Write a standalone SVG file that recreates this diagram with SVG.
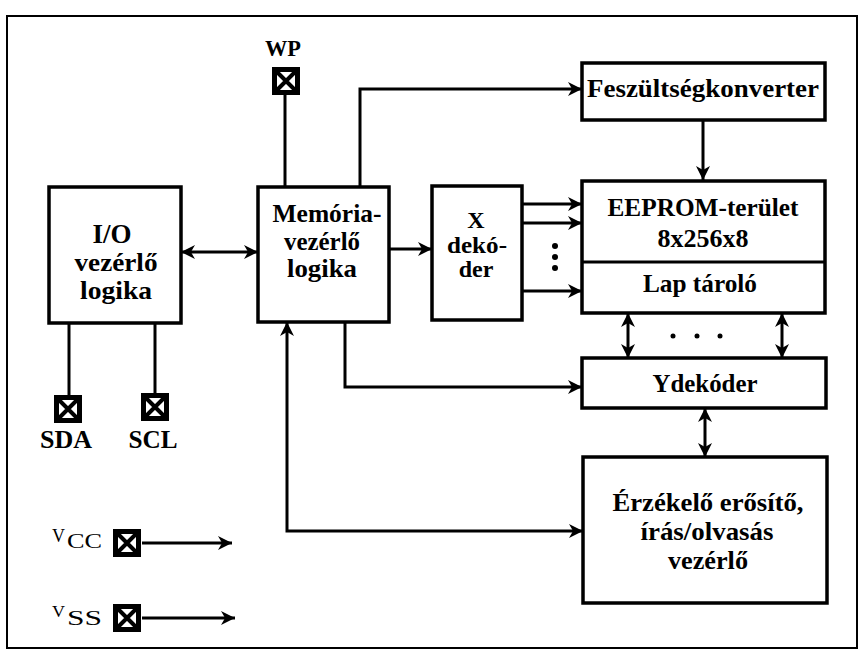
<svg xmlns="http://www.w3.org/2000/svg" width="866" height="654" viewBox="0 0 866 654">
<defs>
<style>
.box{fill:#fff;stroke:#000;stroke-width:3.5}
.ln{fill:none;stroke:#000;stroke-width:3}
.t{font-family:"Liberation Serif","Times New Roman",serif;font-weight:bold;font-size:26px;text-anchor:middle;fill:#000}
.v{font-family:"Liberation Serif","Times New Roman",serif;fill:#000}
</style>
<marker id="ah" markerUnits="userSpaceOnUse" markerWidth="14" markerHeight="14" viewBox="0 0 12 12" refX="12" refY="6" orient="auto-start-reverse">
<path d="M0,0 L12,6 L0,12 L3.5,6 z" fill="#000"/>
</marker>
<g id="pin">
<rect x="0" y="0" width="28" height="28" fill="#000"/>
<rect x="5" y="5" width="18" height="18" fill="#fff"/>
<path d="M5,5 L23,23 M23,5 L5,23" stroke="#000" stroke-width="4"/>
</g>
</defs>
<rect x="0" y="0" width="866" height="654" fill="#fff"/>
<rect x="7" y="16" width="850" height="632" fill="none" stroke="#000" stroke-width="2"/>

<g id="connectors">
<path class="ln" d="M181,252 H258" marker-start="url(#ah)" marker-end="url(#ah)"/>
<path class="ln" d="M389,249 H432" marker-end="url(#ah)"/>
<path class="ln" d="M522,204 H582" marker-end="url(#ah)"/>
<path class="ln" d="M522,223 H582" marker-end="url(#ah)"/>
<path class="ln" d="M522,291 H582" marker-end="url(#ah)"/>
<path class="ln" d="M360,187 V89 H582" marker-end="url(#ah)"/>
<path class="ln" d="M703,120 V180" marker-end="url(#ah)"/>
<path class="ln" d="M285,95 V187"/>
<path class="ln" d="M628,313 V358" marker-start="url(#ah)" marker-end="url(#ah)"/>
<path class="ln" d="M782,313 V358" marker-start="url(#ah)" marker-end="url(#ah)"/>
<path class="ln" d="M705,408 V457" marker-start="url(#ah)" marker-end="url(#ah)"/>
<path class="ln" d="M345,322 V387 H582" marker-end="url(#ah)"/>
<path class="ln" d="M287,322 V531 H583" marker-start="url(#ah)" marker-end="url(#ah)"/>
<path class="ln" d="M69,323 V395"/>
<path class="ln" d="M155,323 V393"/>
<path class="ln" d="M142,543 H232" marker-end="url(#ah)"/>
<path class="ln" d="M142,618 H235" marker-end="url(#ah)"/>
<circle cx="555" cy="246" r="3"/>
<circle cx="555" cy="257" r="3"/>
<circle cx="555" cy="268" r="3"/>
<circle cx="673" cy="336" r="2.5"/>
<circle cx="697" cy="336" r="2.5"/>
<circle cx="720" cy="336" r="2.5"/>
</g>

<g id="io">
<rect class="box" x="49" y="187" width="132" height="136"/>
<text class="t" x="112" y="243" style="font-size:27px">I/O</text>
<text class="t" x="116" y="271" textLength="83" lengthAdjust="spacingAndGlyphs">vezérlő</text>
<text class="t" x="116" y="299" textLength="72" lengthAdjust="spacingAndGlyphs">logika</text>
</g>

<g id="mem">
<rect class="box" x="258" y="187" width="131" height="135"/>
<text class="t" x="327" y="222" textLength="109" lengthAdjust="spacingAndGlyphs">Memória-</text>
<text class="t" x="322" y="250" textLength="76" lengthAdjust="spacingAndGlyphs">vezérlő</text>
<text class="t" x="322" y="277" textLength="70" lengthAdjust="spacingAndGlyphs">logika</text>
</g>

<g id="xdec">
<rect class="box" x="432" y="186" width="90" height="134"/>
<text class="t" x="476" y="228" style="font-size:24px">X</text>
<text class="t" x="477" y="253" style="font-size:24px" textLength="60" lengthAdjust="spacingAndGlyphs">dekó-</text>
<text class="t" x="476" y="277" style="font-size:24px">der</text>
</g>

<g id="fesz">
<rect class="box" x="582" y="63" width="243" height="57"/>
<text class="t" x="703" y="97" textLength="232" lengthAdjust="spacingAndGlyphs">Feszültségkonverter</text>
</g>

<g id="eeprom">
<rect class="box" x="582" y="181" width="243" height="132"/>
<line x1="582" y1="262" x2="825" y2="262" stroke="#000" stroke-width="3"/>
<text class="t" x="703" y="216" textLength="191" lengthAdjust="spacingAndGlyphs">EEPROM-terület</text>
<text class="t" x="703" y="247" textLength="91" lengthAdjust="spacingAndGlyphs">8x256x8</text>
<text class="t" x="700" y="292" textLength="114" lengthAdjust="spacingAndGlyphs">Lap tároló</text>
</g>

<g id="ydec">
<rect class="box" x="582" y="358" width="244" height="50"/>
<text class="t" x="705" y="392" textLength="105" lengthAdjust="spacingAndGlyphs">Ydekóder</text>
</g>

<g id="erz">
<rect class="box" x="583" y="457" width="244" height="146"/>
<text class="t" x="708" y="511" textLength="191" lengthAdjust="spacingAndGlyphs">Érzékelő erősítő,</text>
<text class="t" x="707" y="540" textLength="133" lengthAdjust="spacingAndGlyphs">írás/olvasás</text>
<text class="t" x="708" y="569" textLength="80" lengthAdjust="spacingAndGlyphs">vezérlő</text>
</g>

<g id="wp">
<text class="t" x="283" y="56" style="font-size:23px" textLength="36" lengthAdjust="spacingAndGlyphs">WP</text>
<use href="#pin" x="272" y="67"/>
</g>

<g id="sda">
<use href="#pin" x="54" y="395"/>
<text class="t" x="66" y="448" textLength="52" lengthAdjust="spacingAndGlyphs">SDA</text>
</g>

<g id="scl">
<use href="#pin" x="141" y="393"/>
<text class="t" x="153" y="448" textLength="49" lengthAdjust="spacingAndGlyphs">SCL</text>
</g>

<g id="vcc">
<text class="v" x="52" y="542" style="font-size:18px" textLength="13" lengthAdjust="spacingAndGlyphs">V</text>
<text class="v" x="67" y="548" style="font-size:20px" textLength="35" lengthAdjust="spacingAndGlyphs">CC</text>
<use href="#pin" x="113" y="529"/>
</g>

<g id="vss">
<text class="v" x="52" y="617" style="font-size:16px" textLength="13" lengthAdjust="spacingAndGlyphs">V</text>
<text class="v" x="67" y="625" style="font-size:20px" textLength="35" lengthAdjust="spacingAndGlyphs">SS</text>
<use href="#pin" x="113" y="604"/>
</g>
</svg>
